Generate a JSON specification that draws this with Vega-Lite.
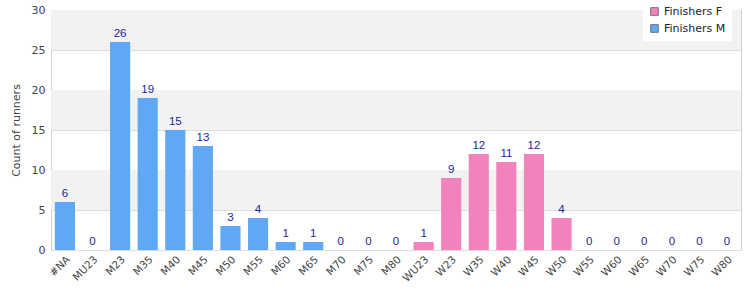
{
  "$schema": "https://vega.github.io/schema/vega-lite/v6.json",
  "width": 690,
  "height": 240,
  "autosize": {"type": "none"},
  "padding": {"left": 51, "top": 10, "right": 9, "bottom": 50},
  "background": "white",
  "config": {
    "font": "DejaVu Sans",
    "view": {"stroke": "#d0d0d0"},
    "axis": {"labelFont": "DejaVu Sans", "titleFont": "DejaVu Sans", "labelColor": "#444", "titleColor": "#444", "labelFontSize": 11, "titleFontSize": 11, "titleFontWeight": "normal", "labelOverlap": false}
  },
  "datasets": {
    "bands": [
      {"y0": 5, "y1": 10},
      {"y0": 15, "y1": 20},
      {"y0": 25, "y1": 30}
    ],
    "runners": [
      {"cat": "#NA", "series": "Finishers M", "count": 6},
      {"cat": "MU23", "series": "Finishers M", "count": 0},
      {"cat": "M23", "series": "Finishers M", "count": 26},
      {"cat": "M35", "series": "Finishers M", "count": 19},
      {"cat": "M40", "series": "Finishers M", "count": 15},
      {"cat": "M45", "series": "Finishers M", "count": 13},
      {"cat": "M50", "series": "Finishers M", "count": 3},
      {"cat": "M55", "series": "Finishers M", "count": 4},
      {"cat": "M60", "series": "Finishers M", "count": 1},
      {"cat": "M65", "series": "Finishers M", "count": 1},
      {"cat": "M70", "series": "Finishers M", "count": 0},
      {"cat": "M75", "series": "Finishers M", "count": 0},
      {"cat": "M80", "series": "Finishers M", "count": 0},
      {"cat": "WU23", "series": "Finishers F", "count": 1},
      {"cat": "W23", "series": "Finishers F", "count": 9},
      {"cat": "W35", "series": "Finishers F", "count": 12},
      {"cat": "W40", "series": "Finishers F", "count": 11},
      {"cat": "W45", "series": "Finishers F", "count": 12},
      {"cat": "W50", "series": "Finishers F", "count": 4},
      {"cat": "W55", "series": "Finishers F", "count": 0},
      {"cat": "W60", "series": "Finishers F", "count": 0},
      {"cat": "W65", "series": "Finishers F", "count": 0},
      {"cat": "W70", "series": "Finishers F", "count": 0},
      {"cat": "W75", "series": "Finishers F", "count": 0},
      {"cat": "W80", "series": "Finishers F", "count": 0}
    ]
  },
  "layer": [
    {
      "data": {"name": "bands"},
      "mark": {"type": "rect", "color": "#f2f2f2"},
      "encoding": {
        "y": {"field": "y0", "type": "quantitative", "scale": {"domain": [0, 30], "nice": false}, "title": "Count of runners",
              "axis": {"tickCount": 6, "ticks": false, "domain": false, "gridColor": "#dedede", "labelPadding": 6, "titlePadding": 10, "labelOverlap": false}},
        "y2": {"field": "y1"}
      }
    },
    {
      "data": {"name": "runners"},
      "layer": [
        {
          "mark": {"type": "bar"},
          "encoding": {
            "x": {"field": "cat", "type": "nominal", "sort": null, "title": null,
                  "scale": {"paddingInner": 0.27, "paddingOuter": 0.14},
                  "axis": {"labelAngle": -45, "ticks": false, "domain": false, "labelPadding": 4, "labelFontSize": 10.5}},
            "y": {"field": "count", "type": "quantitative", "title": "Count of runners",
                  "axis": {"tickCount": 6, "ticks": false, "domain": false, "gridColor": "#dedede", "labelPadding": 6, "titlePadding": 10, "labelOverlap": false}},
            "color": {"field": "series", "type": "nominal",
                      "scale": {"domain": ["Finishers F", "Finishers M"], "range": ["#f282bb", "#5fa8f3"]},
                      "legend": {"title": null, "orient": "none", "legendX": 592, "legendY": -10,
                                 "symbolType": "square", "symbolStrokeColor": "#777", "symbolStrokeWidth": 1, "symbolSize": 60,
                                 "labelFontSize": 11, "labelColor": "#222", "fillColor": "white", "padding": 6, "rowPadding": 4}}
          }
        },
        {
          "mark": {"type": "text", "baseline": "bottom", "dy": -3, "color": "#1e1e9a", "fontSize": 11.5, "font": "Liberation Sans"},
          "encoding": {
            "x": {"field": "cat", "type": "nominal", "sort": null},
            "y": {"field": "count", "type": "quantitative"},
            "text": {"field": "count", "type": "quantitative"}
          }
        }
      ]
    }
  ]
}
